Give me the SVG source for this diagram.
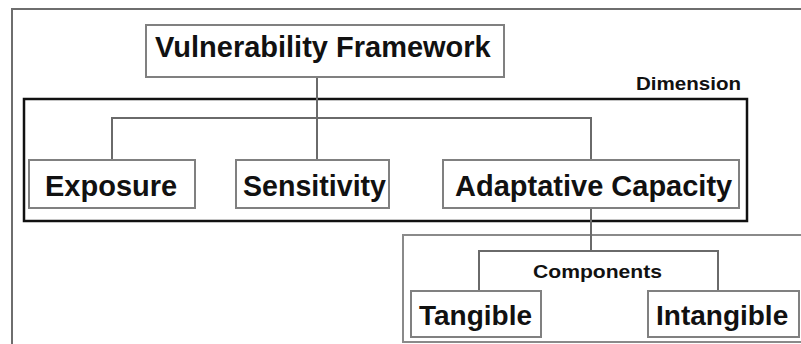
<svg xmlns="http://www.w3.org/2000/svg" width="801" height="344" viewBox="0 0 801 344">
  <style>
    .node { fill: #ffffff; stroke: #808080; stroke-width: 2; }
    .frame { fill: none; stroke: #6e6e6e; stroke-width: 2; }
    .group-dim { fill: none; stroke: #111111; stroke-width: 2.5; }
    .group-comp { fill: none; stroke: #8a8a8a; stroke-width: 2; }
    .link { fill: none; stroke: #6a6a6a; stroke-width: 2; }
    .label { font-family: "Liberation Sans", Arial, sans-serif; font-weight: bold; fill: #111111; }
    .big { font-size: 29px; }
    .mid { font-size: 28px; }
    .small { font-size: 19px; }
  </style>
  <rect width="801" height="344" fill="#ffffff"/>

  <!-- outer frame -->
  <path class="frame" d="M12,344 V9 H801"/>

  <!-- grouping boxes -->
  <g id="dimension-group">
    <rect class="group-dim" x="24" y="99" width="723" height="122"/>
    <text class="label small" x="636" y="90" textLength="105" lengthAdjust="spacingAndGlyphs">Dimension</text>
  </g>
  <g id="components-group">
    <path class="group-comp" d="M801,235 H403 V342 H801"/>
    <text class="label small" x="533" y="278" textLength="129" lengthAdjust="spacingAndGlyphs">Components</text>
  </g>

  <!-- connectors -->
  <g id="connectors">
    <path class="link" d="M317,77 V160"/>
    <path class="link" d="M112,160 V118 H591 V160"/>
    <path class="link" d="M591,208 V251"/>
    <path class="link" d="M479,291 V251 H718 V291"/>
  </g>

  <!-- nodes -->
  <g id="vulnerability-framework">
    <rect class="node" x="146" y="25" width="358" height="52"/>
    <text class="label big" x="155" y="57">Vulnerability Framework</text>
  </g>
  <g id="exposure">
    <rect class="node" x="29" y="160" width="166" height="48"/>
    <text class="label big" x="45" y="196">Exposure</text>
  </g>
  <g id="sensitivity">
    <rect class="node" x="236" y="160" width="153" height="48"/>
    <text class="label big" x="243" y="196" textLength="143" lengthAdjust="spacingAndGlyphs">Sensitivity</text>
  </g>
  <g id="adaptative-capacity">
    <rect class="node" x="443" y="160" width="296" height="48"/>
    <text class="label big" x="455" y="196">Adaptative Capacity</text>
  </g>
  <g id="tangible">
    <rect class="node" x="411" y="291" width="130" height="46"/>
    <text class="label mid" x="419" y="325">Tangible</text>
  </g>
  <g id="intangible">
    <rect class="node" x="648" y="291" width="151" height="46"/>
    <text class="label mid" x="656" y="325">Intangible</text>
  </g>
</svg>
